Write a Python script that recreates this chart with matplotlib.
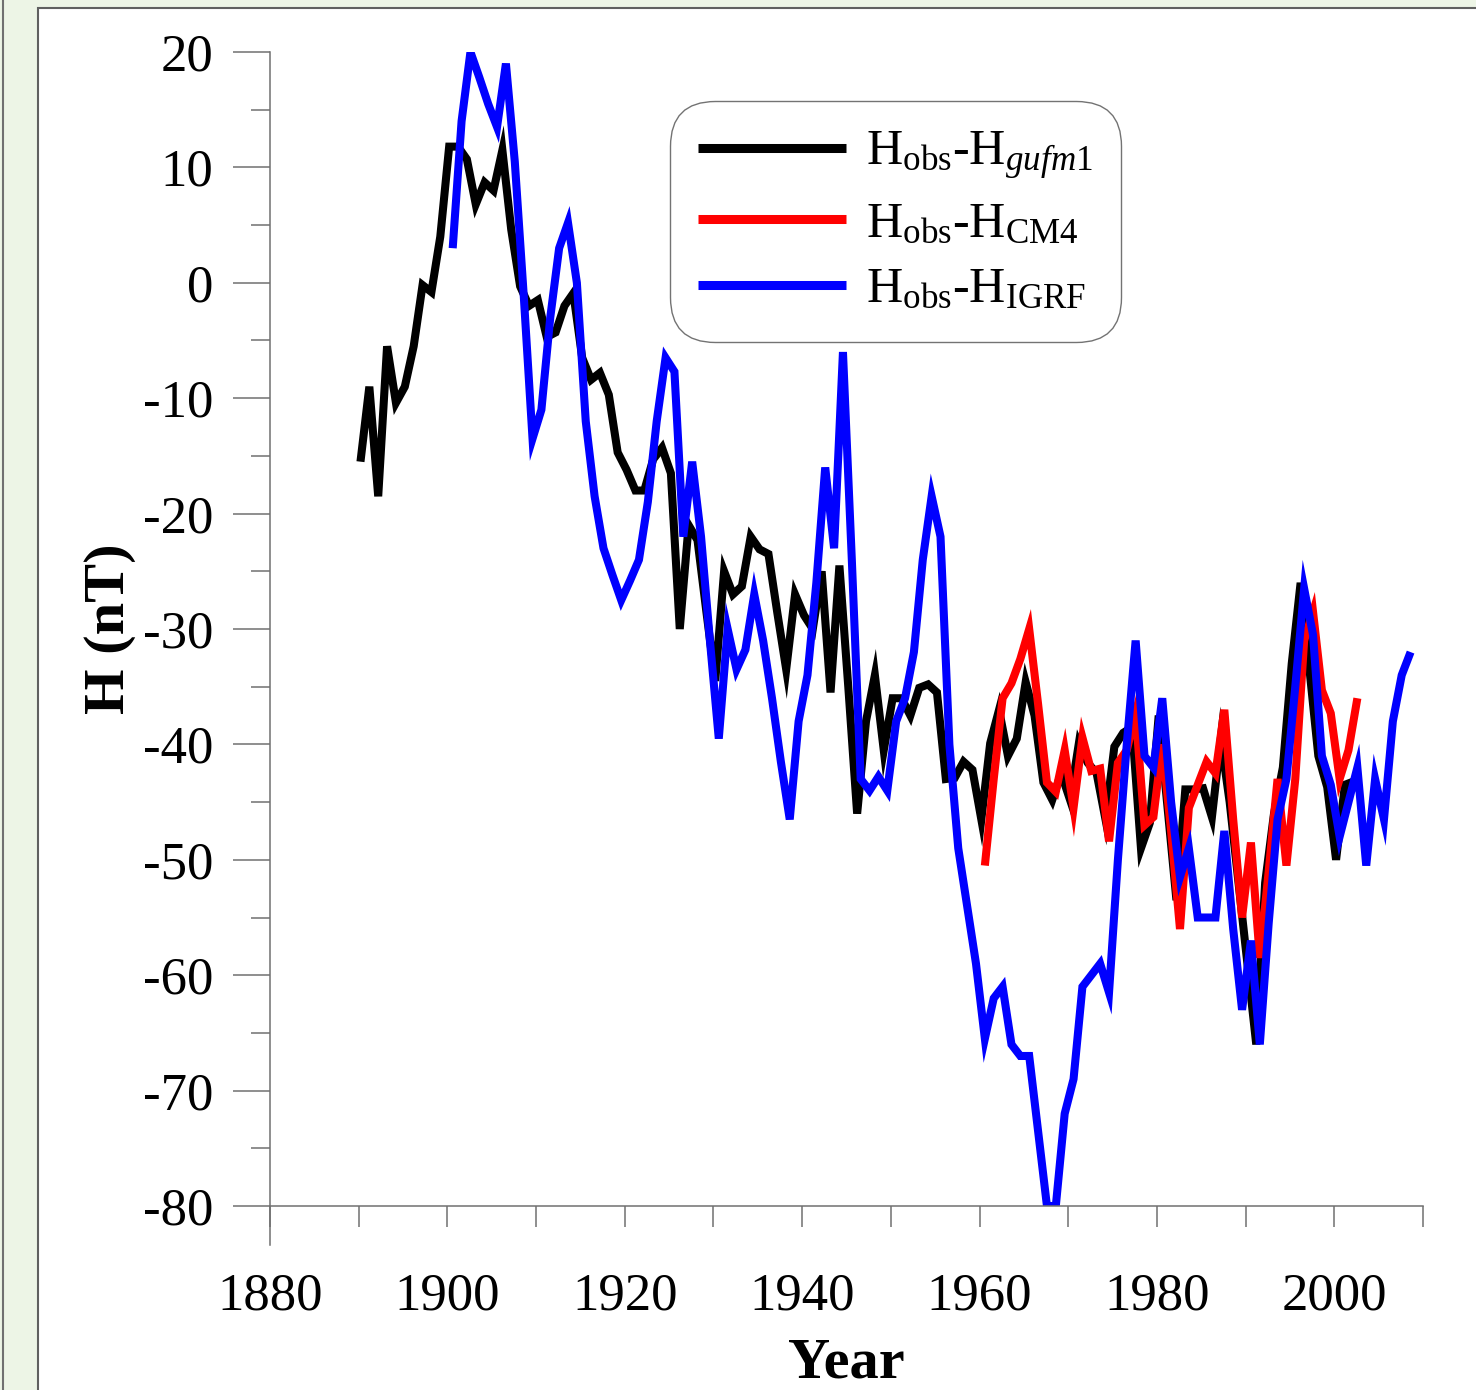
import numpy as np
import matplotlib
matplotlib.use("Agg")
import matplotlib.pyplot as plt
from matplotlib.patches import Rectangle
from matplotlib.lines import Line2D

plt.rcParams['font.family'] = ['Liberation Serif', 'DejaVu Serif']
plt.rcParams['mathtext.fontset'] = 'custom'
plt.rcParams['mathtext.rm'] = 'Liberation Serif'
plt.rcParams['mathtext.it'] = 'Liberation Serif:italic'
plt.rcParams['axes.unicode_minus'] = False

# H_obs - H_gufm1, annual, 1890-2002
years_gufm = np.arange(1890, 2003)
h_gufm = [
    -15.5, -9, -18.5, -5.5, -10.4, -9, -5.5, -0.2, -0.8, 4,              # 1890s
    11.8, 11.8, 10.7, 6.8, 8.7, 8, 11.5, 4.6, -0.3, -2,                 # 1900s
    -1.5, -4.7, -4.3, -2, -0.9, -6.5, -8.4, -7.8, -9.7, -14.7,          # 1910s
    -16.2, -18, -18, -15.3, -14.3, -16.5, -30, -21, -22.3, -28.5,       # 1920s
    -34.5, -25, -27, -26.3, -22, -23.1, -23.5, -28.6, -33.5, -27,       # 1930s
    -28.8, -30, -25, -35.5, -24.5, -35, -46, -38, -34, -40.5,           # 1940s
    -36, -36, -37.5, -35.1, -34.8, -35.5, -43, -42.9, -41.5, -42.2,     # 1950s
    -46.5, -39.9, -37, -41, -39.5, -34.6, -37.5, -43.3, -44.8, -42.5,   # 1960s
    -44.8, -39.9, -41.6, -42.5, -46.5, -40.2, -39, -38.5, -49, -46.8,   # 1970s
    -37.5, -45.5, -53.5, -43.9, -43.9, -43.8, -46.3, -39.5, -45, -52,   # 1980s
    -59, -66, -52, -46, -42, -33, -26, -33.5, -41, -43.7,               # 1990s
    -50, -43.5, -43.2,                                                  # 2000s
]

# H_obs - H_CM4, annual, 1960-2002
years_cm4 = np.arange(1960, 2003)
h_cm4 = [
    -50.5, -43, -36, -34.7, -32.6, -30, -36.5, -43.3, -44.1, -40.5,     # 1960s
    -45.5, -39.4, -42.3, -42.1, -48.4, -41.6, -40.5, -37.3, -47, -46.3, # 1970s
    -40, -47.5, -56, -45.5, -43.5, -41.5, -42.5, -37, -46.5, -55,       # 1980s
    -48.5, -58.5, -51, -43, -50.5, -43, -31, -28.5, -35.3, -37.3,       # 1990s
    -43, -40.5, -36,                                                    # 2000s
]

# H_obs - H_IGRF, annual, 1900-2008
years_igrf = np.arange(1900, 2009)
h_igrf = [
    3, 14, 20, 17.8, 15.5, 13.5, 19, 10.5, -1, -13.5,                   # 1900s
    -11, -3, 3, 5.2, 0, -12, -18.5, -23, -25.3, -27.5,                  # 1910s
    -25.8, -24, -19, -12, -6.5, -7.7, -22, -15.5, -22, -31,             # 1920s
    -39.5, -30, -33.5, -31.8, -27, -31, -36, -41.5, -46.5, -38,         # 1930s
    -34, -26, -16, -23, -6, -24, -43, -44, -42.8, -44,                  # 1940s
    -38, -36, -32, -24, -18.5, -22, -40, -49, -54, -59,                 # 1950s
    -65.5, -62, -61, -66, -67, -67, -73.5, -80, -80, -72,               # 1960s
    -69, -61, -60, -59, -61.5, -50, -40, -31, -41, -42,                 # 1970s
    -36, -45, -51.5, -49, -55, -55, -55, -47.5, -56, -63,               # 1980s
    -57, -66, -55.5, -46.5, -43, -35, -26.5, -30.5, -41, -43.5,         # 1990s
    -48, -45, -42, -50.5, -43, -46.5, -38, -34, -32,                    # 2000s
]

labels = [r'H$_{\mathrm{obs}}$-H$_{\mathit{gufm1}}$',
          r'H$_{\mathrm{obs}}$-H$_{\mathrm{CM4}}$',
          r'H$_{\mathrm{obs}}$-H$_{\mathrm{IGRF}}$']

W, H = 1476, 1390
fig = plt.figure(figsize=(W / 100, H / 100), dpi=100)
fig.patch.set_facecolor('#EDF5E6')
fig.patches.append(Rectangle((38 / W, -0.05), 1.1, 0.05 + 1 - 8 / H,
                             transform=fig.transFigure, facecolor='white',
                             edgecolor='#606060', lw=1.5, zorder=-10))
fig.lines.append(Line2D([3 / W, 3 / W], [0, 1], transform=fig.transFigure,
                        color='#707070', lw=1.5, zorder=-10))

ax = fig.add_axes([270 / W, 1 - 1206 / H, (1423 - 270) / W, (1206 - 52) / H])
ax.set_facecolor('none')

kw = dict(lw=5.8, solid_joinstyle='miter', solid_capstyle='butt')
ax.plot(years_gufm + 0.2, h_gufm, color='black', label=labels[0], **kw)
ax.plot(years_cm4 + 0.6, h_cm4, color='#FF0000', label=labels[1], **kw)
ax.plot(years_igrf + 0.6, h_igrf, color='#0000FF', label=labels[2], **kw)

ax.set_xlim(1880, 2010)
ax.set_ylim(-80, 20)
ax.set_xticks(np.arange(1880, 2011, 10))
ax.set_xticklabels([str(y) if y % 20 == 0 else '' for y in range(1880, 2011, 10)])
ax.set_yticks(np.arange(-80, 21, 10))
ax.set_yticks(np.arange(-75, 20, 10), minor=True)

gray = '#707070'
for s in ['top', 'right']:
    ax.spines[s].set_visible(False)
for s in ['left', 'bottom']:
    ax.spines[s].set_color(gray)
    ax.spines[s].set_linewidth(1.1)
ax.spines['left'].set_bounds(-83.4, 20)

ax.tick_params(axis='y', which='major', direction='out', length=27, width=1.1,
               color=gray, labelsize=38, pad=14)
ax.tick_params(axis='y', which='minor', direction='out', length=14, width=1.1,
               color=gray)
ax.tick_params(axis='x', which='major', direction='out', length=15, width=1.1,
               color=gray, labelsize=38, pad=33)

ax.set_xlabel('Year', fontsize=42, fontweight='bold', labelpad=12)
ax.set_ylabel('H (nT)', fontsize=42, fontweight='bold', labelpad=5)

leg = ax.legend(loc='upper left', bbox_to_anchor=(0.352, 0.952), fontsize=36,
                handlelength=2.95, handletextpad=0.4, labelspacing=0.38,
                borderpad=0.45, borderaxespad=0, frameon=True, fancybox=True)
frame = leg.get_frame()
frame.set_edgecolor('#505050')
frame.set_linewidth(1.0)
frame.set_boxstyle('round', pad=0.12, rounding_size=0.9)
for line in leg.get_lines():
    line.set_linewidth(6.5)

fig.savefig('out.png', dpi=100, facecolor=fig.get_facecolor())
